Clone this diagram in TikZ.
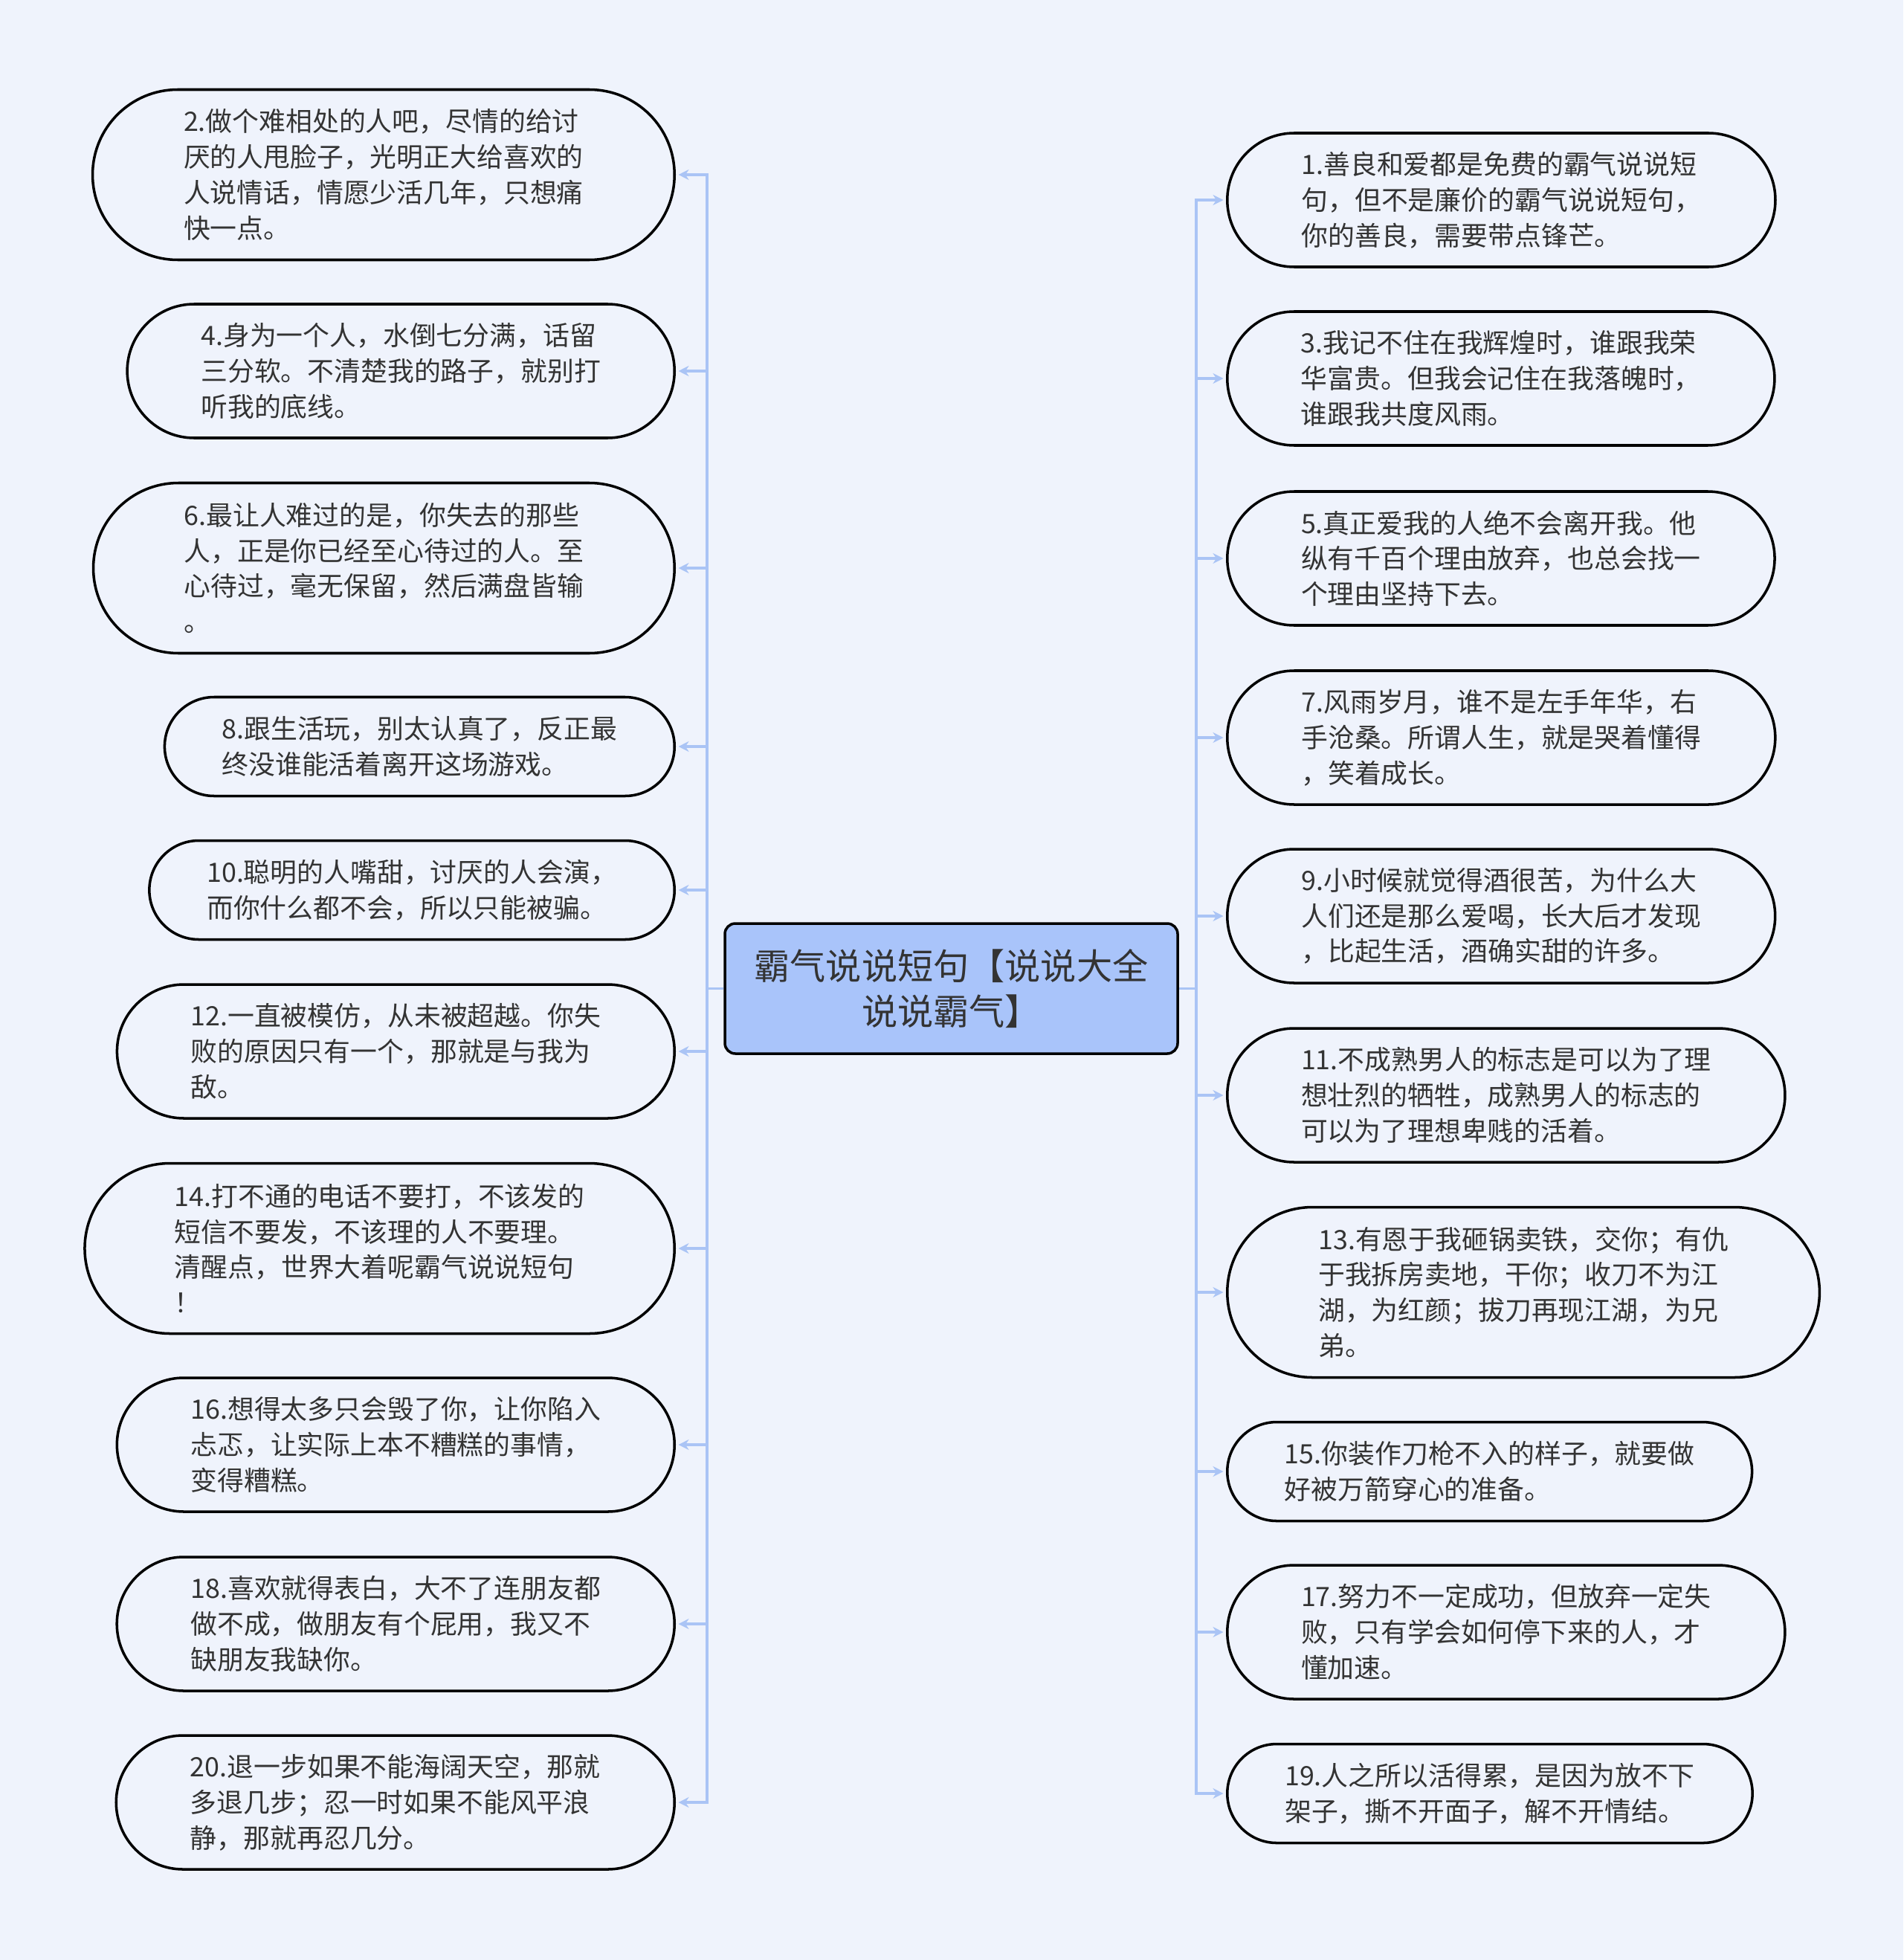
\documentclass[tikz,border=0pt]{standalone}
\usepackage{fontspec}
\setmainfont{Noto Sans CJK SC}
\usetikzlibrary{shapes.misc, arrows.meta}
\definecolor{bgblue}{HTML}{EFF3FC}
\definecolor{rootblue}{HTML}{A9C4FA}
\definecolor{linkblue}{HTML}{AAC4F5}
\definecolor{inkgray}{HTML}{333333}

\begin{document}
\begin{tikzpicture}[
    leaf/.style   = {rounded rectangle, draw=black, line width=1pt, fill=bgblue,
                     inner ysep=0pt, align=left, text=inkgray,
                     font=\fontsize{10.2pt}{13.6pt}\selectfont},
    lines2/.style = {leaf, minimum height=1.33cm, inner xsep=18pt},
    lines3/.style = {leaf, minimum height=1.80cm, inner xsep=20.5pt},
    lines4/.style = {leaf, minimum height=2.29cm, inner xsep=23pt},
    rootbox/.style = {rectangle, draw=black, line width=1pt, fill=rootblue,
                     rounded corners=4pt, minimum width=6.09cm, minimum height=1.75cm,
                     align=center, text=inkgray, inner sep=0pt,
                     font=\fontsize{13.7pt}{17.2pt}\selectfont},
    link/.style   = {line width=1pt, draw=linkblue},
    arr/.style    = {line width=1pt, draw=linkblue, shorten >=1pt,
                     -{Stealth[length=1.4mm, width=1.4mm, fill=linkblue]}},
]

%% ---- Canvas ----
\useasboundingbox (0,0) rectangle (25.6,-26.36);
\fill[bgblue] (0,0) rectangle (25.6,-26.36);

%% ---- Layout coordinates ----
\def\xL{9.09}
\def\xR{16.49}

%% ==================================================================
%% NODES
%% ==================================================================

\node[rootbox] (root) at (12.795, -13.295)
    {霸气说说短句【说说大全\\说说霸气】};

%% left column
\node[lines4, anchor=east] (l1) at (\xL, -2.35)
    {2.做个难相处的人吧，尽情的给讨\\厌的人甩脸子，光明正大给喜欢的\\人说情话，情愿少活几年，只想痛\\快一点。};
\node[lines3, anchor=east] (l2) at (\xL, -4.99)
    {4.身为一个人，水倒七分满，话留\\三分软。不清楚我的路子，就别打\\听我的底线。};
\node[lines4, anchor=east] (l3) at (\xL, -7.64)
    {6.最让人难过的是，你失去的那些\\人，正是你已经至心待过的人。至\\心待过，毫无保留，然后满盘皆输\\。};
\node[lines2, anchor=east] (l4) at (\xL, -10.04)
    {8.跟生活玩，别太认真了，反正最\\终没谁能活着离开这场游戏。};
\node[lines2, anchor=east] (l5) at (\xL, -11.97)
    {10.聪明的人嘴甜，讨厌的人会演，\\而你什么都不会，所以只能被骗。};
\node[lines3, anchor=east] (l6) at (\xL, -14.14)
    {12.一直被模仿，从未被超越。你失\\败的原因只有一个，那就是与我为\\敌。};
\node[lines4, anchor=east] (l7) at (\xL, -16.79)
    {14.打不通的电话不要打，不该发的\\短信不要发，不该理的人不要理。\\清醒点，世界大着呢霸气说说短句\\！};
\node[lines3, anchor=east] (l8) at (\xL, -19.43)
    {16.想得太多只会毁了你，让你陷入\\忐忑，让实际上本不糟糕的事情，\\变得糟糕。};
\node[lines3, anchor=east] (l9) at (\xL, -21.84)
    {18.喜欢就得表白，大不了连朋友都\\做不成，做朋友有个屁用，我又不\\缺朋友我缺你。};
\node[lines3, anchor=east] (l10) at (\xL, -24.24)
    {20.退一步如果不能海阔天空，那就\\多退几步；忍一时如果不能风平浪\\静，那就再忍几分。};

%% right column
\node[lines3, anchor=west] (r1) at (\xR, -2.69)
    {1.善良和爱都是免费的霸气说说短\\句，但不是廉价的霸气说说短句，\\你的善良，需要带点锋芒。};
\node[lines3, anchor=west] (r2) at (\xR, -5.09)
    {3.我记不住在我辉煌时，谁跟我荣\\华富贵。但我会记住在我落魄时，\\谁跟我共度风雨。};
\node[lines3, anchor=west] (r3) at (\xR, -7.51)
    {5.真正爱我的人绝不会离开我。他\\纵有千百个理由放弃，也总会找一\\个理由坚持下去。};
\node[lines3, anchor=west] (r4) at (\xR, -9.92)
    {7.风雨岁月，谁不是左手年华，右\\手沧桑。所谓人生，就是哭着懂得\\，笑着成长。};
\node[lines3, anchor=west] (r5) at (\xR, -12.32)
    {9.小时候就觉得酒很苦，为什么大\\人们还是那么爱喝，长大后才发现\\，比起生活，酒确实甜的许多。};
\node[lines3, anchor=west] (r6) at (\xR, -14.73)
    {11.不成熟男人的标志是可以为了理\\想壮烈的牺牲，成熟男人的标志的\\可以为了理想卑贱的活着。};
\node[lines4, anchor=west] (r7) at (\xR, -17.38)
    {13.有恩于我砸锅卖铁，交你；有仇\\于我拆房卖地，干你；收刀不为江\\湖，为红颜；拔刀再现江湖，为兄\\弟。};
\node[lines2, anchor=west] (r8) at (\xR, -19.79)
    {15.你装作刀枪不入的样子，就要做\\好被万箭穿心的准备。};
\node[lines3, anchor=west] (r9) at (\xR, -21.95)
    {17.努力不一定成功，但放弃一定失\\败，只有学会如何停下来的人，才\\懂加速。};
\node[lines2, anchor=west] (r10) at (\xR, -24.12)
    {19.人之所以活得累，是因为放不下\\架子，撕不开面子，解不开情结。};

%% ==================================================================
%% CONNECTIONS
%% ==================================================================

%% hubs beside the root
\coordinate (lhub) at (9.51, -13.295);
\coordinate (rhub) at (16.09, -13.295);
\draw[link] (root.west) -- (lhub);
\draw[link] (root.east) -- (rhub);

%% root -> left column
\draw[arr] (lhub) |- (l1.east);
\draw[arr] (lhub) |- (l2.east);
\draw[arr] (lhub) |- (l3.east);
\draw[arr] (lhub) |- (l4.east);
\draw[arr] (lhub) |- (l5.east);
\draw[arr] (lhub) |- (l6.east);
\draw[arr] (lhub) |- (l7.east);
\draw[arr] (lhub) |- (l8.east);
\draw[arr] (lhub) |- (l9.east);
\draw[arr] (lhub) |- (l10.east);

%% root -> right column
\draw[arr] (rhub) |- (r1.west);
\draw[arr] (rhub) |- (r2.west);
\draw[arr] (rhub) |- (r3.west);
\draw[arr] (rhub) |- (r4.west);
\draw[arr] (rhub) |- (r5.west);
\draw[arr] (rhub) |- (r6.west);
\draw[arr] (rhub) |- (r7.west);
\draw[arr] (rhub) |- (r8.west);
\draw[arr] (rhub) |- (r9.west);
\draw[arr] (rhub) |- (r10.west);

\end{tikzpicture}
\end{document}
